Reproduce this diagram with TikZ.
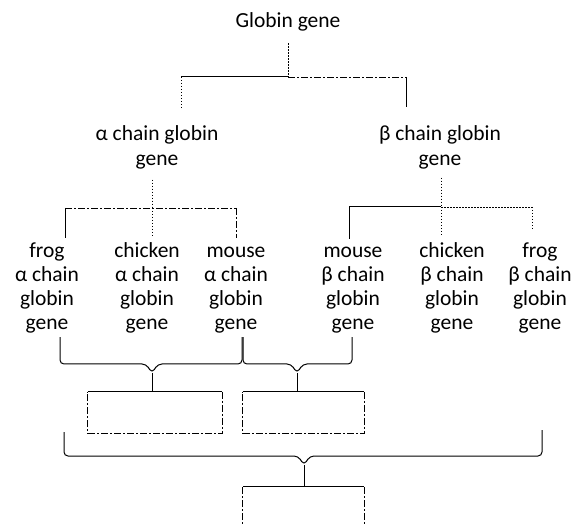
\documentclass[tikz,border=0pt]{standalone}
\usepackage{fontspec}
\setmainfont{Carlito}
\newcommand\leafText[4]{\strut #1\\#2\\#3\\#4\strut}
\begin{document}
\begin{tikzpicture}[x=1pt,y=-1pt,
  lbl/.style={inner sep=0pt,align=center,font=\fontsize{21.5}{24}\selectfont},
  lbltwo/.style={inner sep=0pt,align=center,font=\fontsize{21.5}{25}\selectfont},
  ln/.style={line width=1pt},
  dot/.style={line width=0.9pt,dash pattern=on 1.5pt off 1.5pt},
  dsh/.style={line width=0.9pt,dash pattern=on 7pt off 2pt on 2pt off 2pt},
  brace/.style={line width=1pt,rounded corners=4pt},
  boxn/.style={inner sep=0pt,minimum height=41pt},
  boxdash/.style={line width=0.9pt,dash pattern=on 7pt off 2pt on 2pt off 2pt}]
\useasboundingbox (0,0) rectangle (574,524);

% texts
\node[lbl] (top) at (288,23) {\strut Globin gene\strut};
\node[lbltwo] (alpha) at (157,148.5) {\strut α chain globin\\gene\strut};
\node[lbltwo] (beta) at (440,148.5) {\strut β chain globin\\gene\strut};

\node[lbl] (fa) at (47,289) {\leafText{frog}{α chain}{globin}{gene}};
\node[lbl] (ca) at (147,289) {\leafText{chicken}{α chain}{globin}{gene}};
\node[lbl] (ma) at (236,289) {\leafText{mouse}{α chain}{globin}{gene}};
\node[lbl] (mb) at (353,289) {\leafText{mouse}{β chain}{globin}{gene}};
\node[lbl] (cb) at (452,289) {\leafText{chicken}{β chain}{globin}{gene}};
\node[lbl] (fb) at (540,289) {\leafText{frog}{β chain}{globin}{gene}};

% boxes
\node[boxn,minimum width=134pt] (box1) at (155,412.5) {};
\node[boxn,minimum width=121pt] (box2) at (303.5,412.5) {};
\node[boxn,minimum width=121pt,minimum height=53pt] (box3) at (303.5,513.5) {};
\foreach \b in {box1,box2,box3}{
  \draw[ln] (\b.north west) -- (\b.north east);
  \draw[boxdash] (\b.north east) -- (\b.south east) -- (\b.south west) -- (\b.north west);
}

% top level
\coordinate (tJ) at (288,77);
\coordinate (tL) at (181,77);
\coordinate (tR) at (406,77);
\draw[dot,shorten <=8pt] (top.south) -- (tJ);
\draw[ln] (tL) -- (tJ);
\draw[dsh] (tJ) -- (tR);
\draw[dot,shorten >=16pt] (tL) -- (tL |- alpha.north);
\draw[ln,shorten >=16pt] (tR) -- (tR |- beta.north);

% alpha level
\coordinate (aJ) at (152,208);
\coordinate (aL) at (65,208);
\coordinate (aR) at (236,208);
\draw[dot,shorten <=6pt] (alpha.south -| aJ) -- (aJ);
\draw[dsh] (aL) -- (aR);
\draw[ln,shorten >=3pt] (aL) -- (aL |- fa.north);
\draw[dot,shorten >=4pt] (aJ) -- (aJ |- ca.north);
\draw[dsh,shorten >=3pt] (aR) -- (aR |- ma.north);

% beta level
\coordinate (bJ) at (441,207);
\coordinate (bL) at (349,207);
\coordinate (bR) at (532,207);
\draw[dot,shorten <=4pt] (beta.south -| bJ) -- (bJ);
\draw[ln] (bL) -- (bJ);
\draw[dot] (bJ) -- (bR);
\draw[ln,shorten >=2pt] (bL) -- (bL |- mb.north);
\draw[dot,shorten >=4pt] (bJ) -- (bJ |- cb.north);
\draw[dot,shorten >=10pt] (bR) -- (bR |- fb.north);

% brace 1: frog alpha .. mouse alpha
\coordinate (b1a) at (60,364);
\coordinate (b1t) at (152,373);
\coordinate (b1b) at (242,364);
\draw[brace] (fa.south -| b1a) -- (b1a) -- (146,364) -- (b1t) -- (158,364) -- (b1b) -- (ma.south -| b1b);
\draw[ln] (b1t) -- (b1t |- box1.north);

% brace 2: mouse alpha .. mouse beta
\coordinate (b2a) at (243,364);
\coordinate (b2t) at (297,373);
\coordinate (b2b) at (352,364);
\draw[brace] (ma.south -| b2a) -- (b2a) -- (291,364) -- (b2t) -- (303,364) -- (b2b) -- (mb.south -| b2b);
\draw[ln] (b2t) -- (b2t |- box2.north);

% brace 3
\coordinate (b3s) at (64,432);
\coordinate (b3a) at (64,456);
\coordinate (b3t) at (304,465);
\coordinate (b3b) at (542,456);
\coordinate (b3e) at (542,430);
\draw[brace] (b3s) -- (b3a) -- (298,456) -- (b3t) -- (310,456) -- (b3b) -- (b3e);
\draw[ln] (b3t) -- (b3t |- box3.north);
\end{tikzpicture}
\end{document}
